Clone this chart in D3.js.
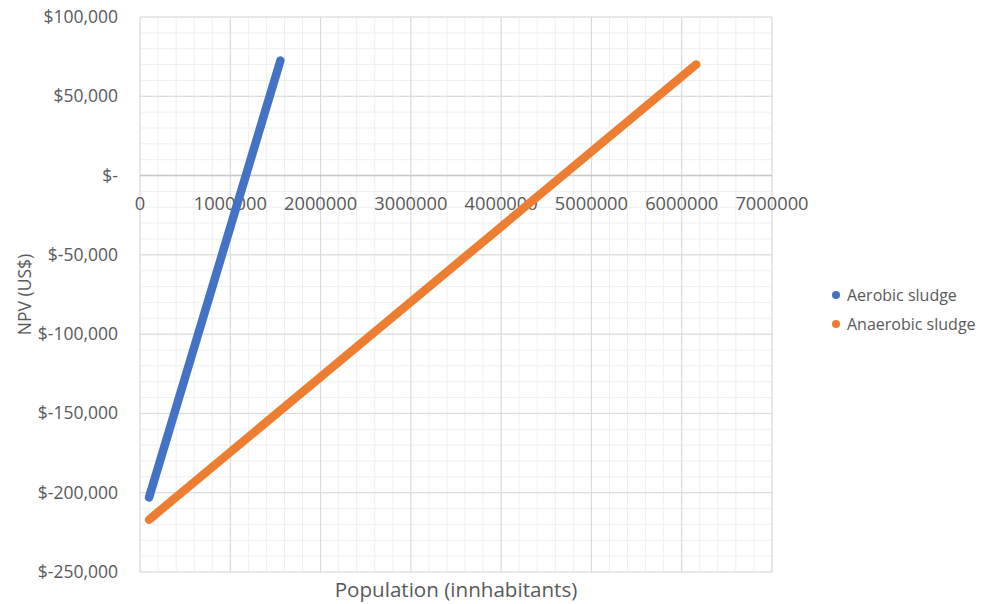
<!DOCTYPE html>
<html>
<head>
<meta charset="utf-8">
<script src="https://cdn.jsdelivr.net/npm/d3@7"></script>
<style>
  body { margin: 0; background: #fff; }
  svg { display: block; font-family: "Open Sans", "Liberation Sans", sans-serif; }
</style>
</head>
<body>
<svg id="chart" width="991" height="604"></svg>
<script>
// NPV versus served population for two sludge treatment routes
const seriesNames = ["Aerobic sludge", "Anaerobic sludge"];
const seriesColors = ["#4472C4", "#ED7D31"];
const aerobicPop = [100000, 1555000];
const aerobicNpv = [-203000, 72500];
const anaerobicPop = [100000, 6160000];
const anaerobicNpv = [-217000, 70000];
const xTicks = [0, 1000000, 2000000, 3000000, 4000000, 5000000, 6000000, 7000000];
const yTicks = [-250000, -200000, -150000, -100000, -50000, 0, 50000, 100000];

const svg = d3.select("#chart");
const plotLeft = 140, plotRight = 772, plotTop = 17, plotBottom = 572;

const x = d3.scaleLinear().domain([0, 7000000]).range([plotLeft, plotRight]);
const y = d3.scaleLinear().domain([-250000, 100000]).range([plotBottom, plotTop]);

// minor grid
const minorX = d3.range(0, 7000001, 200000);
const minorY = d3.range(-250000, 100001, 10000);
svg.append("g").selectAll("line").data(minorX).join("line")
  .attr("x1", d => x(d)).attr("x2", d => x(d)).attr("y1", plotTop).attr("y2", plotBottom)
  .attr("stroke", "#efefef").attr("stroke-width", 1);
svg.append("g").selectAll("line").data(minorY).join("line")
  .attr("x1", plotLeft).attr("x2", plotRight).attr("y1", d => y(d)).attr("y2", d => y(d))
  .attr("stroke", "#efefef").attr("stroke-width", 1);

// major grid
svg.append("g").selectAll("line").data(xTicks).join("line")
  .attr("x1", d => x(d)).attr("x2", d => x(d)).attr("y1", plotTop).attr("y2", plotBottom)
  .attr("stroke", "#d9d9d9").attr("stroke-width", 1);
svg.append("g").selectAll("line").data(yTicks).join("line")
  .attr("x1", plotLeft).attr("x2", plotRight).attr("y1", d => y(d)).attr("y2", d => y(d))
  .attr("stroke", "#d9d9d9").attr("stroke-width", 1);

// horizontal axis crosses at zero
svg.append("line")
  .attr("x1", plotLeft).attr("x2", plotRight).attr("y1", y(0)).attr("y2", y(0))
  .attr("stroke", "#c8c8c8").attr("stroke-width", 1.5);

// x tick labels, sitting just under the zero line
svg.append("g").selectAll("text").data(xTicks).join("text")
  .attr("x", d => x(d)).attr("y", y(0) + 34)
  .attr("text-anchor", "middle").attr("font-size", 18.3).attr("fill", "#595959")
  .text(d => String(d));

// y tick labels, accounting style with a plain hyphen for negatives
const commaFmt = d3.formatLocale({ decimal: ".", thousands: ",", grouping: [3], currency: ["$", ""], minus: "-" }).format(",");
const fmtY = d => d === 0 ? "$-" : "$" + commaFmt(d);
svg.append("g").selectAll("text").data(yTicks).join("text")
  .attr("x", 118).attr("y", d => y(d) + 6)
  .attr("text-anchor", "end").attr("font-size", 17.5).attr("fill", "#595959")
  .text(fmtY);

// series lines
const line = d3.line().x(d => x(d[0])).y(d => y(d[1]));
const series = [
  d3.zip(aerobicPop, aerobicNpv),
  d3.zip(anaerobicPop, anaerobicNpv)
];
svg.append("g").selectAll("path").data(series).join("path")
  .attr("d", line).attr("fill", "none")
  .attr("stroke", (d, i) => seriesColors[i]).attr("stroke-width", 8.5)
  .attr("stroke-linecap", "round");

// axis titles
svg.append("text")
  .attr("x", 456).attr("y", 597).attr("text-anchor", "middle")
  .attr("font-size", 20.6).attr("fill", "#595959").text("Population (innhabitants)");
svg.append("text")
  .attr("transform", `translate(31,${(plotTop + plotBottom) / 2}) rotate(-90)`)
  .attr("text-anchor", "middle").attr("font-size", 17.5).attr("fill", "#595959")
  .text("NPV (US$)");

// legend
const legend = svg.append("g").selectAll("g").data(seriesNames).join("g")
  .attr("transform", (d, i) => `translate(836,${295 + i * 29})`);
legend.append("circle").attr("r", 4).attr("fill", (d, i) => seriesColors[i]);
legend.append("text").attr("x", 11).attr("y", 6)
  .attr("font-size", 16).attr("fill", "#595959").text(d => d);
</script>
</body>
</html>
